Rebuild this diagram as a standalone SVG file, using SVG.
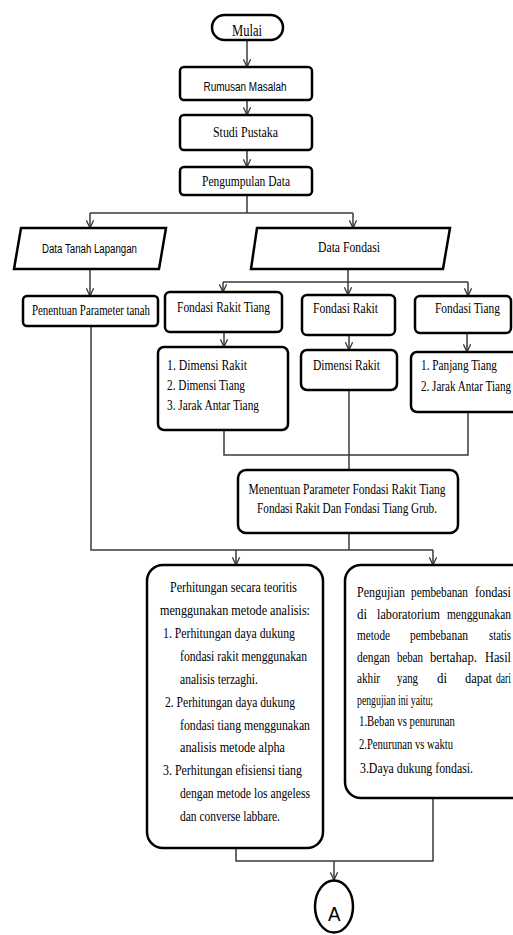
<svg xmlns="http://www.w3.org/2000/svg" width="513" height="935" viewBox="0 0 513 935">
<defs>
<marker id="ah" markerUnits="userSpaceOnUse" markerWidth="9" markerHeight="9" viewBox="0 0 10 10" refX="9.5" refY="5" orient="auto">
<path d="M1,1 L9.5,5 L1,9" fill="none" stroke="#333" stroke-width="1.4"/>
</marker>
</defs>
<style>
.b{fill:#fff;stroke:#000;stroke-width:2.5}
.c{fill:none;stroke:#3a3a3a;stroke-width:1.5}
.a{marker-end:url(#ah)}
.s{font-family:"Liberation Serif","Times New Roman",serif;font-size:14.5px;fill:#000}
.ss{font-family:"Liberation Sans",Arial,sans-serif;font-size:12.5px;fill:#000}
</style>
<rect width="513" height="935" fill="#fff"/>

<g id="connectors">
<path class="c a" d="M247,40 V67"/>
<path class="c a" d="M247,100 V115"/>
<path class="c a" d="M247,150 V167"/>
<path class="c" d="M247,195 V213 M90,213 H353"/>
<path class="c a" d="M90,213 V228"/>
<path class="c a" d="M353,213 V228"/>
<path class="c a" d="M90,269 V296"/>
<path class="c" d="M348,269 V282 M223,282 H468"/>
<path class="c a" d="M223,282 V292"/>
<path class="c a" d="M348,282 V295"/>
<path class="c a" d="M468,282 V296"/>
<path class="c a" d="M224,332 V347"/>
<path class="c a" d="M349,335 V350"/>
<path class="c a" d="M467,333 V352"/>
<path class="c" d="M224,430 V455 H468 V412"/>
<path class="c" d="M349,390 V470"/>
<path class="c" d="M349,533 V550 M91,326 V550 H433"/>
<path class="c a" d="M236,550 V565"/>
<path class="c a" d="M433,550 V565"/>
<path class="c" d="M236,848 V861 H433 V798"/>
<path class="c a" d="M334,861 V880"/>
</g>

<g id="mulai">
<rect class="b" x="212" y="15" width="71" height="25" rx="12.5"/>
<text class="s" x="232" y="36" style="font-size:16.5px" textLength="30" lengthAdjust="spacingAndGlyphs">Mulai</text>
</g>
<g id="rumusan">
<rect class="b" x="180" y="67" width="132" height="33" rx="4"/>
<text class="ss" x="203.5" y="90.5" textLength="83" lengthAdjust="spacingAndGlyphs">Rumusan Masalah</text>
</g>
<g id="studi">
<rect class="b" x="180" y="115" width="132" height="35" rx="4"/>
<text class="s" x="213" y="137" textLength="65" lengthAdjust="spacingAndGlyphs">Studi Pustaka</text>
</g>
<g id="pengumpulan">
<rect class="b" x="180" y="167" width="132" height="28" rx="4"/>
<text class="s" x="202" y="186" textLength="88" lengthAdjust="spacingAndGlyphs">Pengumpulan Data</text>
</g>

<g id="data-tanah">
<polygon class="b" points="21,228 166,228 159,269 14,269"/>
<text class="ss" x="42" y="253" textLength="95" lengthAdjust="spacingAndGlyphs">Data Tanah Lapangan</text>
</g>
<g id="data-fondasi">
<polygon class="b" points="257,228 450,228 443,269 251,269"/>
<text class="s" x="318" y="252" textLength="62" lengthAdjust="spacingAndGlyphs">Data Fondasi</text>
</g>

<g id="penentuan">
<rect class="b" x="23" y="296" width="135" height="30" rx="4"/>
<text class="s" x="32" y="315" textLength="118" lengthAdjust="spacingAndGlyphs">Penentuan Parameter tanah</text>
</g>
<g id="frt">
<rect class="b" x="165" y="292" width="117" height="40" rx="5"/>
<text class="s" x="177" y="312" textLength="93" lengthAdjust="spacingAndGlyphs">Fondasi Rakit Tiang</text>
</g>
<g id="fr">
<rect class="b" x="302" y="295" width="93" height="40" rx="5"/>
<text class="s" x="313" y="313" textLength="65" lengthAdjust="spacingAndGlyphs">Fondasi Rakit</text>
</g>
<g id="ft">
<rect class="b" x="415" y="296" width="96" height="37" rx="5"/>
<text class="s" x="435" y="313" textLength="65" lengthAdjust="spacingAndGlyphs">Fondasi Tiang</text>
</g>

<g id="frt-detail">
<rect class="b" x="158" y="347" width="130" height="83" rx="6"/>
<text class="s" x="167" y="370" textLength="80" lengthAdjust="spacingAndGlyphs">1. Dimensi  Rakit</text>
<text class="s" x="167" y="390" textLength="78" lengthAdjust="spacingAndGlyphs">2. Dimensi Tiang</text>
<text class="s" x="167" y="410" textLength="92" lengthAdjust="spacingAndGlyphs">3. Jarak Antar Tiang</text>
</g>
<g id="fr-detail">
<rect class="b" x="301" y="350" width="96" height="40" rx="6"/>
<text class="s" x="313" y="370" textLength="67" lengthAdjust="spacingAndGlyphs">Dimensi Rakit</text>
</g>
<g id="ft-detail">
<rect class="b" x="411" y="352" width="112" height="60" rx="6"/>
<text class="s" x="421" y="370" textLength="76" lengthAdjust="spacingAndGlyphs">1. Panjang Tiang</text>
<text class="s" x="421" y="391" textLength="90" lengthAdjust="spacingAndGlyphs">2. Jarak Antar Tiang</text>
</g>

<g id="menentuan">
<rect class="b" x="238" y="470" width="220" height="63" rx="8"/>
<text class="s" x="248.5" y="494" textLength="197" lengthAdjust="spacingAndGlyphs">Menentuan Parameter Fondasi Rakit Tiang</text>
<text class="s" x="257" y="513" textLength="180" lengthAdjust="spacingAndGlyphs">Fondasi Rakit Dan Fondasi Tiang Grub.</text>
</g>

<g id="perhitungan">
<rect class="b" x="147" y="565" width="176" height="283" rx="16"/>
<text class="s" x="170" y="592" textLength="127" lengthAdjust="spacingAndGlyphs">Perhitungan secara teoritis</text>
<text class="s" x="160" y="615" textLength="150" lengthAdjust="spacingAndGlyphs">menggunakan metode analisis:</text>
<text class="s" x="163" y="638" textLength="132" lengthAdjust="spacingAndGlyphs">1. Perhitungan daya dukung</text>
<text class="s" x="180" y="661" textLength="127" lengthAdjust="spacingAndGlyphs">fondasi rakit menggunakan</text>
<text class="s" x="180" y="684" textLength="78" lengthAdjust="spacingAndGlyphs">analisis terzaghi.</text>
<text class="s" x="165" y="707" textLength="130" lengthAdjust="spacingAndGlyphs">2. Perhitungan daya dukung</text>
<text class="s" x="180" y="730" textLength="130" lengthAdjust="spacingAndGlyphs">fondasi tiang menggunakan</text>
<text class="s" x="180" y="752" textLength="105" lengthAdjust="spacingAndGlyphs">analisis metode  alpha</text>
<text class="s" x="163" y="775" textLength="139" lengthAdjust="spacingAndGlyphs">3. Perhitungan efisiensi tiang</text>
<text class="s" x="180" y="798" textLength="130" lengthAdjust="spacingAndGlyphs">dengan metode los angeless</text>
<text class="s" x="180" y="821" textLength="100" lengthAdjust="spacingAndGlyphs">dan converse labbare.</text>
</g>

<g id="pengujian">
<rect class="b" x="345" y="565" width="185" height="233" rx="16"/>
<text class="s" x="357" y="597" textLength="48" lengthAdjust="spacingAndGlyphs">Pengujian</text>
<text class="s" x="411" y="597" textLength="57" lengthAdjust="spacingAndGlyphs">pembebanan</text>
<text class="s" x="475" y="597" textLength="36" lengthAdjust="spacingAndGlyphs">fondasi</text>
<text class="s" x="357" y="618.5" textLength="10" lengthAdjust="spacingAndGlyphs">di</text>
<text class="s" x="377" y="618.5" textLength="63" lengthAdjust="spacingAndGlyphs">laboratorium</text>
<text class="s" x="447" y="618.5" textLength="64" lengthAdjust="spacingAndGlyphs">menggunakan</text>
<text class="s" x="357" y="640" textLength="33" lengthAdjust="spacingAndGlyphs">metode</text>
<text class="s" x="410" y="640" textLength="58" lengthAdjust="spacingAndGlyphs">pembebanan</text>
<text class="s" x="489" y="640" textLength="22" lengthAdjust="spacingAndGlyphs">statis</text>
<text class="s" x="357" y="661.5" textLength="33" lengthAdjust="spacingAndGlyphs">dengan</text>
<text class="s" x="397" y="661.5" textLength="26" lengthAdjust="spacingAndGlyphs">beban</text>
<text class="s" x="430" y="661.5" textLength="47" lengthAdjust="spacingAndGlyphs">bertahap.</text>
<text class="s" x="485" y="661.5" textLength="26" lengthAdjust="spacingAndGlyphs">Hasil</text>
<text class="s" x="357" y="683" textLength="23" lengthAdjust="spacingAndGlyphs">akhir</text>
<text class="s" x="397" y="683" textLength="21" lengthAdjust="spacingAndGlyphs">yang</text>
<text class="s" x="437" y="683" textLength="10" lengthAdjust="spacingAndGlyphs">di</text>
<text class="s" x="465" y="683" textLength="27" lengthAdjust="spacingAndGlyphs">dapat</text>
<text class="s" x="496" y="683" textLength="15" lengthAdjust="spacingAndGlyphs">dari</text>
<text class="s" x="357" y="704.5" textLength="76" lengthAdjust="spacingAndGlyphs">pengujian ini yaitu;</text>
<text class="s" x="359" y="726" textLength="96" lengthAdjust="spacingAndGlyphs">1.Beban vs penurunan</text>
<text class="s" x="359" y="749" textLength="94" lengthAdjust="spacingAndGlyphs">2.Penurunan vs waktu</text>
<text class="s" x="360" y="773" textLength="113" lengthAdjust="spacingAndGlyphs">3.Daya dukung fondasi.</text>
</g>

<g id="connector-a">
<ellipse class="b" cx="334" cy="906.5" rx="19" ry="26"/>
<text class="ss" x="328" y="921" style="font-size:21px" textLength="12.5" lengthAdjust="spacingAndGlyphs">A</text>
</g>
</svg>
